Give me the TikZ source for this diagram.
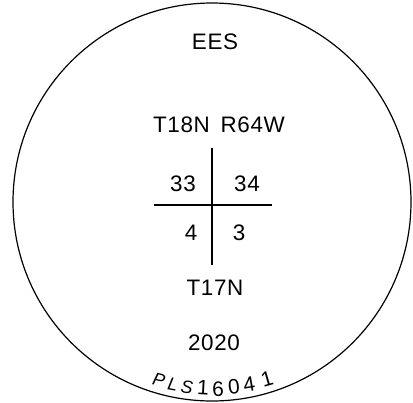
\documentclass[tikz,border=0pt]{standalone}
\usepackage{fontspec}
\setmainfont[LetterSpace=3]{Liberation Sans}
\usepackage{tikz}
\usetikzlibrary{positioning}

\begin{document}
\begin{tikzpicture}[x=1bp,y=-1bp,every node/.style={inner sep=0pt,font=\fontsize{22.5}{26}\selectfont},
	seal/.style={line width=1.2bp},grid/.style={line width=1.4bp},
	stamp/.style={font=\fontsize{21}{24}\selectfont},
	plsletter/.style={font=\fontsize{18}{20}\selectfont\itshape}]
	\useasboundingbox (0,0) rectangle (413,403);
	\draw[seal] (212,202) circle[radius=199bp];

	\node (ees) at (215,42) {EES};
	\node (twp) at (219,125) {T18N\, R64W};
	\node (s33) at (183,184) {33};
	\node (s34) at (247,184) {34};
	\node (s4) at (191,233) {4};
	\node (s3) at (239,233) {3};
	\node (twps) at (215,288) {T17N};
	\node (year) at (214,343) {2020};

	\coordinate (ntop) at (212,148);
	\coordinate (nbot) at (212,265);
	\coordinate (wend) at (154,205);
	\coordinate (eend) at (272,205);
	\draw[grid] (ntop) -- (nbot);
	\draw[grid] (wend) -- (eend);

	% PLS number along the rim
	\node[plsletter,rotate=-14] (p1) at (159,380) {P};
	\node[plsletter,rotate=-11] (p2) at (173,384) {L};
	\node[plsletter,rotate=-8] (p3) at (187,387) {S};
	\node[stamp,rotate=-3] (d1) at (203,388) {1};
	\node[stamp,rotate=1] (d2) at (218,389) {6};
	\node[stamp,rotate=6] (d3) at (234,387) {0};
	\node[stamp,rotate=10] (d4) at (249,384) {4};
	\node[stamp,rotate=16] (d5) at (267,379) {1};
\end{tikzpicture}
\end{document}
